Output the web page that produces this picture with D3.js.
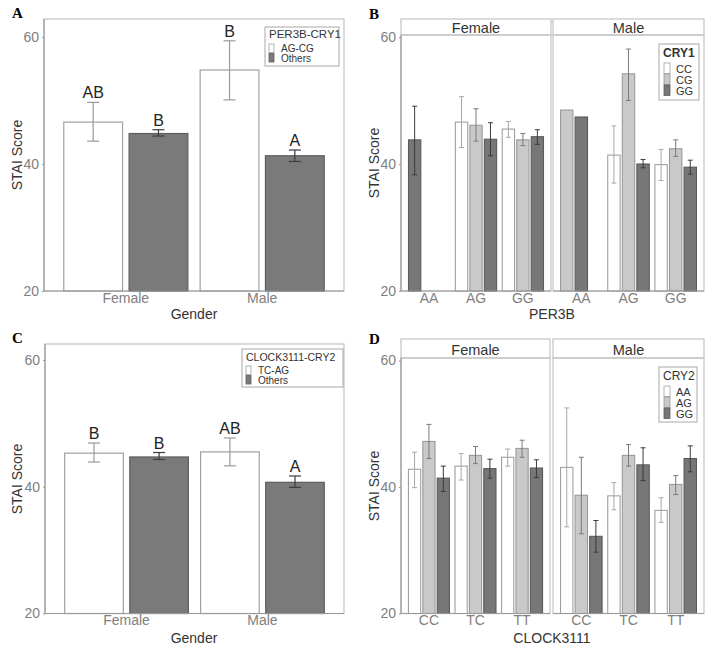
<!DOCTYPE html>
<html><head><meta charset="utf-8">
<script src="https://cdn.jsdelivr.net/npm/d3@7"></script>
<style>body{margin:0;background:#fff}svg{display:block}</style>
</head><body>
<script>
// ---------- DATA ----------
const genders = ["Female", "Male"];

// Panel A
const aKeys = ["AG-CG", "Others"];
const aMean = [[46.6, 44.8], [54.8, 41.3]];
const aLow = [[43.6, 44.4], [50.1, 40.4]];
const aHigh = [[49.7, 45.4], [59.4, 42.2]];
const aLetters = [["AB", "B"], ["B", "A"]];

// Panel C
const cKeys = ["TC-AG", "Others"];
const cMean = [[45.3, 44.7], [45.5, 40.7]];
const cLow = [[43.9, 44.3], [43.3, 39.9]];
const cHigh = [[46.9, 45.4], [47.7, 41.7]];
const cLetters = [["B", "B"], ["AB", "A"]];

// Panel B  (gender -> PER3B -> CRY1)
const per3b = ["AA", "AG", "GG"];
const cry1 = ["CC", "CG", "GG"];
const bMean = [
  [[null, null, 43.8], [46.6, 46.1, 43.9], [45.5, 43.8, 44.3]],
  [[null, 48.5, 47.4], [41.4, 54.2, 40.0], [39.9, 42.4, 39.5]]
];
const bLow = [
  [[null, null, 38.3], [42.6, 43.6, 41.3], [44.2, 42.9, 43.1]],
  [[null, null, null], [37.0, 50.0, 39.4], [37.4, 41.2, 38.4]]
];
const bHigh = [
  [[null, null, 49.1], [50.6, 48.7, 46.5], [46.7, 44.8, 45.4]],
  [[null, null, null], [46.0, 58.1, 40.7], [42.3, 43.8, 40.6]]
];

// Panel D  (gender -> CLOCK3111 -> CRY2)
const clock = ["CC", "TC", "TT"];
const cry2 = ["AA", "AG", "GG"];
const dMean = [
  [[42.8, 47.2, 41.4], [43.3, 45.0, 42.9], [44.7, 46.1, 43.0]],
  [[43.1, 38.7, 32.2], [38.6, 45.0, 43.5], [36.3, 40.4, 44.5]]
];
const dLow = [
  [[39.9, 44.5, 39.3], [41.1, 43.7, 41.4], [43.3, 44.7, 41.5]],
  [[33.7, 32.6, 29.7], [36.4, 43.3, 41.0], [34.4, 38.8, 42.4]]
];
const dHigh = [
  [[45.5, 49.9, 43.3], [45.3, 46.4, 44.4], [46.0, 47.4, 44.3]],
  [[52.5, 44.7, 34.7], [40.7, 46.7, 46.2], [38.3, 41.8, 46.5]]
];

const yTicks = [20, 40, 60];

// ---------- STYLE ----------
const FONT = "'Liberation Sans', Arial, sans-serif";
const SERIF = "'Liberation Serif', 'Times New Roman', serif";
const fill2 = ["#ffffff", "#7a7a7a"];
const stroke2 = ["#a0a0a0", "#5e5e5e"];
const err2 = ["#9a9a9a", "#3c3c3c"];
const fill3 = ["#ffffff", "#c9c9c9", "#777777"];
const stroke3 = ["#a0a0a0", "#9a9a9a", "#5a5a5a"];
const err3 = ["#a8a8a8", "#7a7a7a", "#3a3a3a"];
const tickCol = "#808080", titleCol = "#333333", borderCol = "#c4c4c4", axisCol = "#9a9a9a";

const svg = d3.select("body").append("svg").attr("width", 708).attr("height", 648);

function yAxis(g, y, x0) {
  const ax = g.append("g").attr("transform", `translate(${x0},0)`)
    .call(d3.axisLeft(y).tickValues(yTicks).tickSize(2).tickPadding(3));
  ax.select(".domain").remove();
  ax.selectAll("line").attr("stroke", axisCol);
  ax.selectAll("text").attr("fill", tickCol).style("font-family", FONT).style("font-size", "14px");
}

function panelLetter(t, x, y) {
  svg.append("text").attr("x", x).attr("y", y).text(t)
    .style("font-family", SERIF).style("font-weight", "bold").style("font-size", "15px").attr("fill", "#000");
}

function axisTitles(xt, xtx, xty, ytx, yty) {
  svg.append("text").attr("x", xtx).attr("y", xty).attr("text-anchor", "middle").attr("dominant-baseline", "central")
    .text(xt).style("font-family", FONT).style("font-size", "14px").attr("fill", titleCol);
  svg.append("text").attr("transform", `translate(${ytx},${yty}) rotate(-90)`).attr("text-anchor", "middle")
    .attr("dominant-baseline", "central").text("STAI Score")
    .style("font-family", FONT).style("font-size", "14px").attr("fill", titleCol);
}

// ---------- Simple two-group panels (A, C) ----------
function simplePanel(o) {
  const g = svg.append("g");
  const y = d3.scaleLinear().domain([20, 60]).range([o.y20, o.y60]);
  const x = d3.scaleBand().domain(genders).range([o.x0, o.x1]).paddingInner(0).paddingOuter(0.1);
  const wInner = x.bandwidth() * 0.91;
  const xi = d3.scaleBand().domain(o.keys).range([0, wInner]).paddingInner(0.1);
  g.append("rect").attr("x", o.x0).attr("y", o.top).attr("width", o.x1 - o.x0).attr("height", o.y20 - o.top)
    .attr("fill", "none").attr("stroke", borderCol).attr("stroke-width", 1.2);
  genders.forEach((gd, gi) => {
    const gx = x(gd) + (x.bandwidth() - wInner) / 2;
    o.keys.forEach((k, ki) => {
      const bx = gx + xi(k), bw = xi.bandwidth(), cx = bx + bw / 2;
      g.append("rect").attr("x", bx).attr("y", y(o.mean[gi][ki])).attr("width", bw)
        .attr("height", y(20) - y(o.mean[gi][ki])).attr("fill", fill2[ki]).attr("stroke", stroke2[ki]).attr("stroke-width", 1.2);
      const hi = y(o.high[gi][ki]), lo = y(o.low[gi][ki]), cw = 6;
      const e = g.append("g").attr("stroke", err2[ki]).attr("stroke-width", 1.2);
      e.append("line").attr("x1", cx).attr("x2", cx).attr("y1", hi).attr("y2", lo);
      e.append("line").attr("x1", cx - cw).attr("x2", cx + cw).attr("y1", hi).attr("y2", hi);
      e.append("line").attr("x1", cx - cw).attr("x2", cx + cw).attr("y1", lo).attr("y2", lo);
      g.append("text").attr("x", cx).attr("y", hi - 4).attr("text-anchor", "middle").text(o.letters[gi][ki])
        .style("font-family", FONT).style("font-size", "16px").attr("fill", "#222");
    });
  });
  g.append("line").attr("x1", o.x0).attr("x2", o.x0).attr("y1", o.top).attr("y2", o.y20).attr("stroke", axisCol).attr("stroke-width", 1.2);
  g.append("line").attr("x1", o.x0).attr("x2", o.x1).attr("y1", o.y20).attr("y2", o.y20).attr("stroke", axisCol).attr("stroke-width", 1.2);
  yAxis(g, y, o.x0);
  const xa = g.append("g").attr("transform", `translate(0,${o.y20})`).call(d3.axisBottom(x).tickSize(0).tickPadding(2));
  xa.select(".domain").remove();
  xa.selectAll("text").attr("fill", tickCol).style("font-family", FONT).style("font-size", "14px");
  // legend
  const L = o.legend;
  g.append("rect").attr("x", L.x).attr("y", L.y).attr("width", L.w).attr("height", L.h)
    .attr("fill", "#fff").attr("stroke", "#a8a8a8").attr("stroke-width", 1);
  g.append("text").attr("x", L.x + 4).attr("y", L.y + L.titleDy).attr("dominant-baseline", "central").text(L.title)
    .style("font-family", FONT).style("font-size", L.titleSize + "px").attr("fill", "#333");
  o.keys.forEach((k, ki) => {
    const ky = L.y + L.keyY0 + ki * L.keyH;
    g.append("rect").attr("x", L.x + 4).attr("y", ky).attr("width", 5).attr("height", L.keyH - 1)
      .attr("fill", fill2[ki]).attr("stroke", stroke2[ki]).attr("stroke-width", 0.8);
    g.append("text").attr("x", L.x + 16).attr("y", ky + L.keyH / 2).attr("dominant-baseline", "central").text(k)
      .style("font-family", FONT).style("font-size", "10px").attr("fill", "#333");
  });
}

// ---------- Faceted panels (B, D) ----------
function facetPanel(o) {
  const g = svg.append("g");
  const y = d3.scaleLinear().domain([20, 60]).range([o.y20, o.y60]);
  genders.forEach((gd, gi) => {
    const [px0, px1] = o.facets[gi];
    g.append("rect").attr("x", px0).attr("y", o.stripTop).attr("width", px1 - px0).attr("height", o.top - o.stripTop)
      .attr("fill", "#fff").attr("stroke", borderCol).attr("stroke-width", 1.2);
    g.append("text").attr("x", (px0 + px1) / 2).attr("y", (o.stripTop + o.top) / 2 + 1).attr("text-anchor", "middle")
      .attr("dominant-baseline", "central").text(gd).style("font-family", FONT).style("font-size", "14.5px").attr("fill", "#333");
    g.append("rect").attr("x", px0).attr("y", o.top).attr("width", px1 - px0).attr("height", o.y20 - o.top)
      .attr("fill", "none").attr("stroke", borderCol).attr("stroke-width", 1.2);
    const x = d3.scaleBand().domain(o.cats).range([px0, px1]).paddingInner(0).paddingOuter(0.1);
    const wInner = x.bandwidth() * 0.88;
    const xi = d3.scaleBand().domain([0, 1, 2]).range([0, wInner]).paddingInner(0.15);
    o.cats.forEach((c, ci) => {
      const gx = x(c) + (x.bandwidth() - wInner) / 2;
      let slot = 0;
      o.keys.forEach((k, ki) => {
        const m = o.mean[gi][ci][ki];
        if (m == null) return;
        const bx = gx + xi(slot), bw = xi.bandwidth(), cx = bx + bw / 2;
        slot++;
        g.append("rect").attr("x", bx).attr("y", y(m)).attr("width", bw).attr("height", y(20) - y(m))
          .attr("fill", fill3[ki]).attr("stroke", stroke3[ki]).attr("stroke-width", 1.1);
        const hv = o.high[gi][ci][ki], lv = o.low[gi][ci][ki];
        if (hv != null && lv != null) {
          const hi = y(hv), lo = y(lv), cw = 2.5;
          const e = g.append("g").attr("stroke", err3[ki]).attr("stroke-width", 1);
          e.append("line").attr("x1", cx).attr("x2", cx).attr("y1", hi).attr("y2", lo);
          e.append("line").attr("x1", cx - cw).attr("x2", cx + cw).attr("y1", hi).attr("y2", hi);
          e.append("line").attr("x1", cx - cw).attr("x2", cx + cw).attr("y1", lo).attr("y2", lo);
        }
      });
    });
    g.append("line").attr("x1", px0).attr("x2", px1).attr("y1", o.y20).attr("y2", o.y20).attr("stroke", axisCol).attr("stroke-width", 1.2);
    if (gi === 0) g.append("line").attr("x1", px0).attr("x2", px0).attr("y1", o.top).attr("y2", o.y20).attr("stroke", axisCol).attr("stroke-width", 1.2);
    const xa = g.append("g").attr("transform", `translate(0,${o.y20})`).call(d3.axisBottom(x).tickSize(0).tickPadding(2));
    xa.select(".domain").remove();
    xa.selectAll("text").attr("fill", tickCol).style("font-family", FONT).style("font-size", "14px");
  });
  yAxis(g, y, o.facets[0][0]);
  const L = o.legend;
  g.append("rect").attr("x", L.x).attr("y", L.y).attr("width", L.w).attr("height", L.h)
    .attr("fill", "#fff").attr("stroke", "#a8a8a8").attr("stroke-width", 1);
  g.append("text").attr("x", L.x + 4).attr("y", L.y + 9).attr("dominant-baseline", "central").text(L.title)
    .style("font-family", FONT).style("font-weight", L.bold ? "bold" : "normal").style("font-size", "12px").attr("fill", "#333");
  o.keys.forEach((k, ki) => {
    const ky = L.y + 19 + ki * 11;
    g.append("rect").attr("x", L.x + 5).attr("y", ky).attr("width", 6).attr("height", 10.5)
      .attr("fill", fill3[ki]).attr("stroke", stroke3[ki]).attr("stroke-width", 0.8);
    g.append("text").attr("x", L.x + 17).attr("y", ky + 5.5).attr("dominant-baseline", "central").text(k)
      .style("font-family", FONT).style("font-size", "11px").attr("fill", "#333");
  });
}

// ---------- DRAW ----------
simplePanel({ x0: 44, x1: 344, top: 19, y20: 291, y60: 37, keys: aKeys, mean: aMean, low: aLow, high: aHigh, letters: aLetters,
  legend: { x: 265, y: 27, w: 74, h: 39, title: "PER3B-CRY1", titleSize: 11.5, titleDy: 7, keyY0: 17, keyH: 9.5 } });
panelLetter("A", 12, 18);
axisTitles("Gender", 194, 314, 17, 155);

simplePanel({ x0: 45, x1: 344, top: 344, y20: 613.5, y60: 360, keys: cKeys, mean: cMean, low: cLow, high: cHigh, letters: cLetters,
  legend: { x: 242, y: 349, w: 101, h: 38, title: "CLOCK3111-CRY2", titleSize: 10.5, titleDy: 8, keyY0: 17, keyH: 9.5 } });
panelLetter("C", 12, 343);
axisTitles("Gender", 194, 638, 17, 479);

facetPanel({ facets: [[401, 551], [553, 704]], stripTop: 19, top: 35, y20: 291, y60: 37, cats: per3b, keys: cry1,
  mean: bMean, low: bLow, high: bHigh, legend: { x: 659, y: 44, w: 40, h: 56, title: "CRY1", bold: true } });
panelLetter("B", 369, 19);
axisTitles("PER3B", 552, 314, 374, 163);

facetPanel({ facets: [[401, 550], [553, 704]], stripTop: 339, top: 358, y20: 613.5, y60: 360.5, cats: clock, keys: cry2,
  mean: dMean, low: dLow, high: dHigh, legend: { x: 659, y: 367, w: 38, h: 55, title: "CRY2", bold: false } });
panelLetter("D", 369, 344);
axisTitles("CLOCK3111", 552, 638, 374, 486);
</script>
</body></html>
